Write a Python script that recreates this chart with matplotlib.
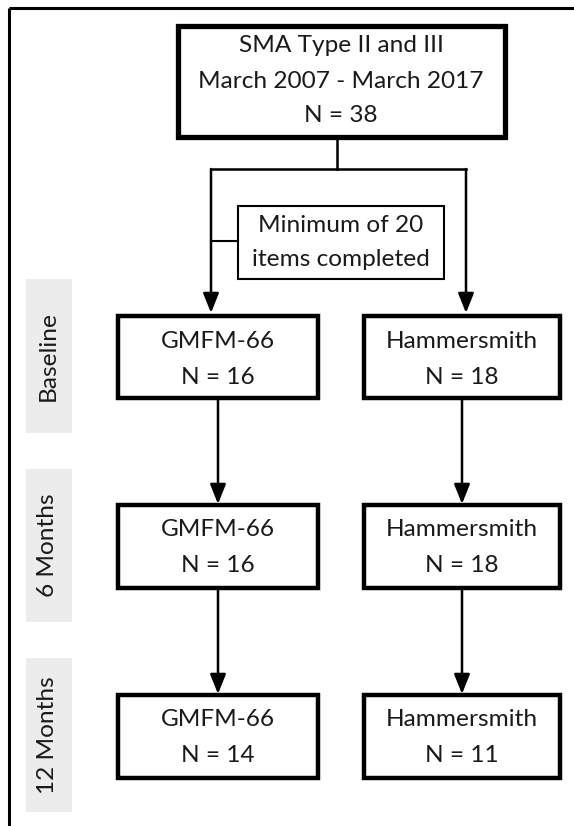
import matplotlib
matplotlib.use("Agg")
import matplotlib.pyplot as plt
from matplotlib.patches import Rectangle

plt.rcParams['font.family'] = ['Lato', 'DejaVu Sans']

# data
top_lines = ["SMA Type II and III", "March 2007 - March 2017", "N = 38"]
filter_lines = ["Minimum of 20", "items completed"]
timepoints = ["Baseline", "6 Months", "12 Months"]
measures = ["GMFM-66", "Hammersmith"]
gmfm_n = [16, 16, 14]
hammer_n = [18, 18, 11]

W, H = 574, 826
fig = plt.figure(figsize=(W / 100, H / 100), dpi=100)
ax = fig.add_axes([0, 0, 1, 1])
ax.set_xlim(0, W)
ax.set_ylim(H, 0)
ax.axis('off')

txt_color = '#1a1a1a'
fs = 17.6

def box(x0, y0, x1, y1, lw):
    ax.add_patch(Rectangle((x0, y0), x1 - x0, y1 - y0, fill=False,
                           edgecolor='k', lw=lw, joinstyle='miter'))

def lines_text(cx, ys, lines, size=fs):
    for y, s in zip(ys, lines):
        ax.text(cx, y, s, ha='center', va='center', fontsize=size, color=txt_color)

def arrow(x, y0, y1):
    ax.annotate('', xy=(x, y1), xytext=(x, y0),
                arrowprops=dict(arrowstyle='-|>,head_length=0.75,head_width=0.3',
                                mutation_scale=16, lw=1.8, color='k',
                                shrinkA=0, shrinkB=0))

# outer frame (top + left)
ax.plot([9, W], [8, 8], color='k', lw=2.2, solid_capstyle='butt')
ax.plot([9, 9], [8, H], color='k', lw=2.2, solid_capstyle='butt')

# top box
box(178, 26, 505, 137, 3.8)
lines_text(341, [46, 81, 116], top_lines)

# split connector
ax.plot([337, 337], [137, 169], color='k', lw=1.8)
ax.plot([211, 466], [169, 169], color='k', lw=1.8, solid_capstyle='projecting')

# filter box
box(238, 206, 444, 279, 1.5)
lines_text(341, [226, 259], filter_lines)
ax.plot([211, 238], [241, 241], color='k', lw=1.5)

arrow(211, 169, 313)
arrow(466, 169, 313)

# side labels
gray_spans = [(279, 433), (469, 622), (658, 812)]
for (g0, g1), lab in zip(gray_spans, timepoints):
    ax.add_patch(Rectangle((26, g0), 46, g1 - g0, facecolor='#ececec', edgecolor='none'))
    ax.text(48, (g0 + g1) / 2, lab, rotation=90, ha='center', va='center',
            fontsize=fs, color=txt_color)

# measure boxes
rows = [(316, 398), (505, 588), (695, 778)]
cols = [(118, 318), (364, 560)]
counts = [gmfm_n, hammer_n]
for j, (x0, x1) in enumerate(cols):
    cx = (x0 + x1) / 2
    for i, (y0, y1) in enumerate(rows):
        box(x0, y0, x1, y1, 3.2)
        lines_text(cx, [y0 + 25, y0 + 61], [measures[j], "N = %d" % counts[j][i]])
        if i > 0:
            arrow(cx, rows[i - 1][1], y0 - 1)

fig.savefig('out.png', dpi=100)
